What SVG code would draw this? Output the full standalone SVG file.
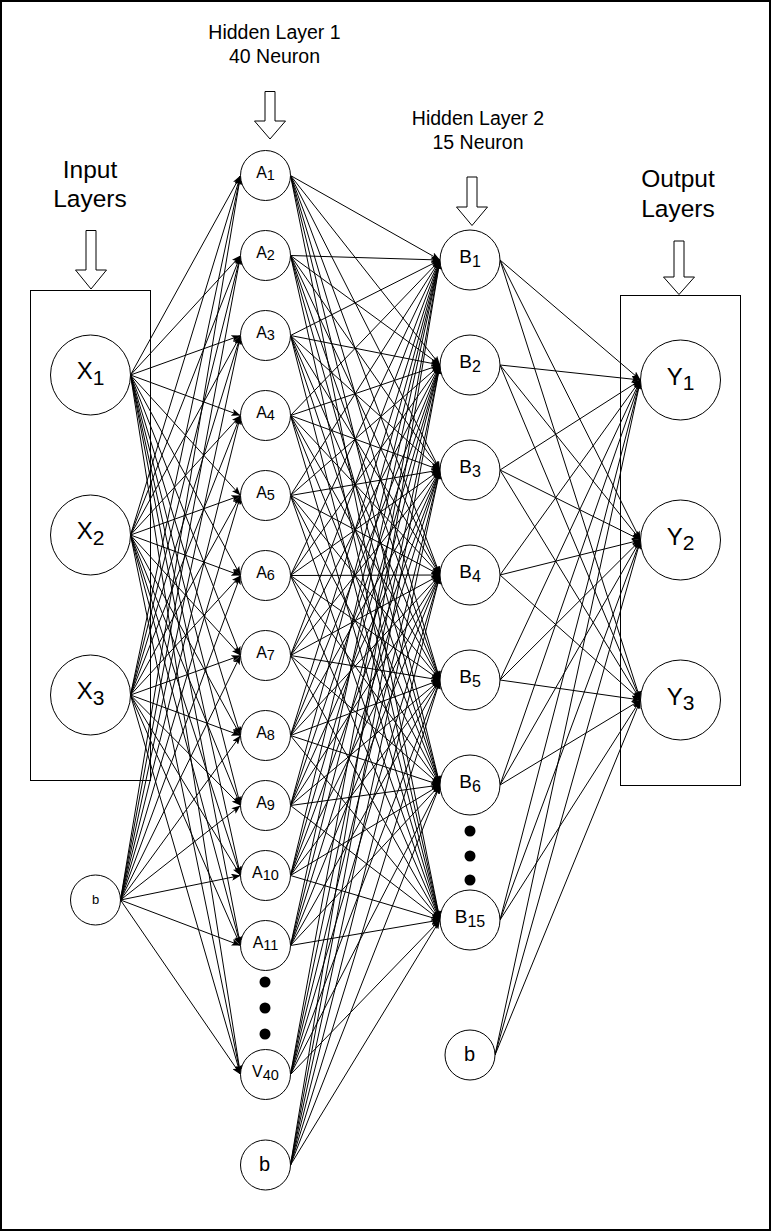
<svg xmlns="http://www.w3.org/2000/svg" width="771" height="1231" viewBox="0 0 771 1231">
<style>
text{font-family:"Liberation Sans",Arial,sans-serif;fill:#000;text-anchor:middle}
.n{fill:#fff;stroke:#000;stroke-width:1}
.box{fill:none;stroke:#000;stroke-width:1}
.harr{fill:#fff;stroke:#000;stroke-width:1}
.dot{fill:#000}
#connectors line{stroke:#000;stroke-width:1;marker-end:url(#arr)}
.lbl{font-size:19.5px}
.big{font-size:24.5px}
.xy{font-size:24px}
.xys{font-size:21px}
.a{font-size:16px}
.as{font-size:14.5px}
.b{font-size:19px}
.bs{font-size:16px}
</style>
<defs>
<marker id="arr" markerUnits="userSpaceOnUse" markerWidth="9" markerHeight="7" refX="9" refY="3.5" orient="auto">
<path d="M0,0 L9,3.5 L0,7 L2,3.5 z" fill="#000"/>
</marker>
</defs>
<rect x="0" y="0" width="771" height="1231" fill="#fff"/>
<rect x="1" y="1" width="769" height="1229" fill="none" stroke="#000" stroke-width="2"/>

<g id="labels">
<text class="lbl" x="274.5" y="39">Hidden Layer 1</text>
<text class="lbl" x="274.5" y="63">40 Neuron</text>
<text class="lbl" x="478" y="125">Hidden Layer 2</text>
<text class="lbl" x="478" y="149">15 Neuron</text>
<text class="big" x="90" y="178">Input</text>
<text class="big" x="90" y="207">Layers</text>
<text class="big" x="678" y="187">Output</text>
<text class="big" x="678" y="216.5">Layers</text>
</g>

<g id="layer-arrows">
<polygon class="harr" points="265,91.5 275,91.5 275,121 285.5,121 270,139 254.5,121 265,121"/>
<polygon class="harr" points="86,230.5 96,230.5 96,270 106.5,270 91,289 75.5,270 86,270"/>
<polygon class="harr" points="467,177 477,177 477,207 487.5,207 472,225.5 456.5,207 467,207"/>
<polygon class="harr" points="674,241 684,241 684,277 694.5,277 679,294.5 663.5,277 674,277"/>
</g>

<g id="input-box"><rect class="box" x="30.5" y="290.5" width="120" height="490"/></g>
<g id="output-box"><rect class="box" x="620.5" y="295.5" width="120" height="490"/></g>

<g id="connectors">
<line x1="130.5" y1="375" x2="240.5" y2="175.5"/>
<line x1="130.5" y1="375" x2="240.5" y2="255.5"/>
<line x1="130.5" y1="375" x2="240.5" y2="335.5"/>
<line x1="130.5" y1="375" x2="240.5" y2="415.5"/>
<line x1="130.5" y1="375" x2="240.5" y2="495.5"/>
<line x1="130.5" y1="375" x2="240.5" y2="575.5"/>
<line x1="130.5" y1="375" x2="240.5" y2="655.5"/>
<line x1="130.5" y1="375" x2="240.5" y2="735.5"/>
<line x1="130.5" y1="375" x2="240.5" y2="805.5"/>
<line x1="130.5" y1="375" x2="240.5" y2="875.5"/>
<line x1="130.5" y1="375" x2="240.5" y2="945.5"/>
<line x1="130.5" y1="375" x2="240.5" y2="1074.5"/>
<line x1="130.5" y1="535" x2="240.5" y2="175.5"/>
<line x1="130.5" y1="535" x2="240.5" y2="255.5"/>
<line x1="130.5" y1="535" x2="240.5" y2="335.5"/>
<line x1="130.5" y1="535" x2="240.5" y2="415.5"/>
<line x1="130.5" y1="535" x2="240.5" y2="495.5"/>
<line x1="130.5" y1="535" x2="240.5" y2="575.5"/>
<line x1="130.5" y1="535" x2="240.5" y2="655.5"/>
<line x1="130.5" y1="535" x2="240.5" y2="735.5"/>
<line x1="130.5" y1="535" x2="240.5" y2="805.5"/>
<line x1="130.5" y1="535" x2="240.5" y2="875.5"/>
<line x1="130.5" y1="535" x2="240.5" y2="945.5"/>
<line x1="130.5" y1="535" x2="240.5" y2="1074.5"/>
<line x1="130.5" y1="695" x2="240.5" y2="175.5"/>
<line x1="130.5" y1="695" x2="240.5" y2="255.5"/>
<line x1="130.5" y1="695" x2="240.5" y2="335.5"/>
<line x1="130.5" y1="695" x2="240.5" y2="415.5"/>
<line x1="130.5" y1="695" x2="240.5" y2="495.5"/>
<line x1="130.5" y1="695" x2="240.5" y2="575.5"/>
<line x1="130.5" y1="695" x2="240.5" y2="655.5"/>
<line x1="130.5" y1="695" x2="240.5" y2="735.5"/>
<line x1="130.5" y1="695" x2="240.5" y2="805.5"/>
<line x1="130.5" y1="695" x2="240.5" y2="875.5"/>
<line x1="130.5" y1="695" x2="240.5" y2="945.5"/>
<line x1="130.5" y1="695" x2="240.5" y2="1074.5"/>
<line x1="120.5" y1="900" x2="240.5" y2="175.5"/>
<line x1="120.5" y1="900" x2="240.5" y2="255.5"/>
<line x1="120.5" y1="900" x2="240.5" y2="335.5"/>
<line x1="120.5" y1="900" x2="240.5" y2="415.5"/>
<line x1="120.5" y1="900" x2="240.5" y2="495.5"/>
<line x1="120.5" y1="900" x2="240.5" y2="575.5"/>
<line x1="120.5" y1="900" x2="240.5" y2="655.5"/>
<line x1="120.5" y1="900" x2="240.5" y2="735.5"/>
<line x1="120.5" y1="900" x2="240.5" y2="805.5"/>
<line x1="120.5" y1="900" x2="240.5" y2="875.5"/>
<line x1="120.5" y1="900" x2="240.5" y2="945.5"/>
<line x1="120.5" y1="900" x2="240.5" y2="1074.5"/>

<line x1="290.5" y1="175.5" x2="440" y2="260"/>
<line x1="290.5" y1="175.5" x2="440" y2="365"/>
<line x1="290.5" y1="175.5" x2="440" y2="470"/>
<line x1="290.5" y1="175.5" x2="440" y2="575"/>
<line x1="290.5" y1="175.5" x2="440" y2="680"/>
<line x1="290.5" y1="175.5" x2="440" y2="785"/>
<line x1="290.5" y1="175.5" x2="440" y2="920"/>
<line x1="290.5" y1="255.5" x2="440" y2="260"/>
<line x1="290.5" y1="255.5" x2="440" y2="365"/>
<line x1="290.5" y1="255.5" x2="440" y2="470"/>
<line x1="290.5" y1="255.5" x2="440" y2="575"/>
<line x1="290.5" y1="255.5" x2="440" y2="680"/>
<line x1="290.5" y1="255.5" x2="440" y2="785"/>
<line x1="290.5" y1="255.5" x2="440" y2="920"/>
<line x1="290.5" y1="335.5" x2="440" y2="260"/>
<line x1="290.5" y1="335.5" x2="440" y2="365"/>
<line x1="290.5" y1="335.5" x2="440" y2="470"/>
<line x1="290.5" y1="335.5" x2="440" y2="575"/>
<line x1="290.5" y1="335.5" x2="440" y2="680"/>
<line x1="290.5" y1="335.5" x2="440" y2="785"/>
<line x1="290.5" y1="335.5" x2="440" y2="920"/>
<line x1="290.5" y1="415.5" x2="440" y2="260"/>
<line x1="290.5" y1="415.5" x2="440" y2="365"/>
<line x1="290.5" y1="415.5" x2="440" y2="470"/>
<line x1="290.5" y1="415.5" x2="440" y2="575"/>
<line x1="290.5" y1="415.5" x2="440" y2="680"/>
<line x1="290.5" y1="415.5" x2="440" y2="785"/>
<line x1="290.5" y1="415.5" x2="440" y2="920"/>
<line x1="290.5" y1="495.5" x2="440" y2="260"/>
<line x1="290.5" y1="495.5" x2="440" y2="365"/>
<line x1="290.5" y1="495.5" x2="440" y2="470"/>
<line x1="290.5" y1="495.5" x2="440" y2="575"/>
<line x1="290.5" y1="495.5" x2="440" y2="680"/>
<line x1="290.5" y1="495.5" x2="440" y2="785"/>
<line x1="290.5" y1="495.5" x2="440" y2="920"/>
<line x1="290.5" y1="575.5" x2="440" y2="260"/>
<line x1="290.5" y1="575.5" x2="440" y2="365"/>
<line x1="290.5" y1="575.5" x2="440" y2="470"/>
<line x1="290.5" y1="575.5" x2="440" y2="575"/>
<line x1="290.5" y1="575.5" x2="440" y2="680"/>
<line x1="290.5" y1="575.5" x2="440" y2="785"/>
<line x1="290.5" y1="575.5" x2="440" y2="920"/>
<line x1="290.5" y1="655.5" x2="440" y2="260"/>
<line x1="290.5" y1="655.5" x2="440" y2="365"/>
<line x1="290.5" y1="655.5" x2="440" y2="470"/>
<line x1="290.5" y1="655.5" x2="440" y2="575"/>
<line x1="290.5" y1="655.5" x2="440" y2="680"/>
<line x1="290.5" y1="655.5" x2="440" y2="785"/>
<line x1="290.5" y1="655.5" x2="440" y2="920"/>
<line x1="290.5" y1="735.5" x2="440" y2="260"/>
<line x1="290.5" y1="735.5" x2="440" y2="365"/>
<line x1="290.5" y1="735.5" x2="440" y2="470"/>
<line x1="290.5" y1="735.5" x2="440" y2="575"/>
<line x1="290.5" y1="735.5" x2="440" y2="680"/>
<line x1="290.5" y1="735.5" x2="440" y2="785"/>
<line x1="290.5" y1="735.5" x2="440" y2="920"/>
<line x1="290.5" y1="805.5" x2="440" y2="260"/>
<line x1="290.5" y1="805.5" x2="440" y2="365"/>
<line x1="290.5" y1="805.5" x2="440" y2="470"/>
<line x1="290.5" y1="805.5" x2="440" y2="575"/>
<line x1="290.5" y1="805.5" x2="440" y2="680"/>
<line x1="290.5" y1="805.5" x2="440" y2="785"/>
<line x1="290.5" y1="805.5" x2="440" y2="920"/>
<line x1="290.5" y1="875.5" x2="440" y2="260"/>
<line x1="290.5" y1="875.5" x2="440" y2="365"/>
<line x1="290.5" y1="875.5" x2="440" y2="470"/>
<line x1="290.5" y1="875.5" x2="440" y2="575"/>
<line x1="290.5" y1="875.5" x2="440" y2="680"/>
<line x1="290.5" y1="875.5" x2="440" y2="785"/>
<line x1="290.5" y1="875.5" x2="440" y2="920"/>
<line x1="290.5" y1="945.5" x2="440" y2="260"/>
<line x1="290.5" y1="945.5" x2="440" y2="365"/>
<line x1="290.5" y1="945.5" x2="440" y2="470"/>
<line x1="290.5" y1="945.5" x2="440" y2="575"/>
<line x1="290.5" y1="945.5" x2="440" y2="680"/>
<line x1="290.5" y1="945.5" x2="440" y2="785"/>
<line x1="290.5" y1="945.5" x2="440" y2="920"/>
<line x1="290.5" y1="1074.5" x2="440" y2="260"/>
<line x1="290.5" y1="1074.5" x2="440" y2="365"/>
<line x1="290.5" y1="1074.5" x2="440" y2="470"/>
<line x1="290.5" y1="1074.5" x2="440" y2="575"/>
<line x1="290.5" y1="1074.5" x2="440" y2="680"/>
<line x1="290.5" y1="1074.5" x2="440" y2="785"/>
<line x1="290.5" y1="1074.5" x2="440" y2="920"/>
<line x1="290.5" y1="1165" x2="440" y2="260"/>
<line x1="290.5" y1="1165" x2="440" y2="365"/>
<line x1="290.5" y1="1165" x2="440" y2="470"/>
<line x1="290.5" y1="1165" x2="440" y2="575"/>
<line x1="290.5" y1="1165" x2="440" y2="680"/>
<line x1="290.5" y1="1165" x2="440" y2="785"/>
<line x1="290.5" y1="1165" x2="440" y2="920"/>

<line x1="500" y1="260" x2="640.5" y2="380"/>
<line x1="500" y1="260" x2="640.5" y2="540"/>
<line x1="500" y1="260" x2="640.5" y2="700"/>
<line x1="500" y1="365" x2="640.5" y2="380"/>
<line x1="500" y1="365" x2="640.5" y2="540"/>
<line x1="500" y1="365" x2="640.5" y2="700"/>
<line x1="500" y1="470" x2="640.5" y2="380"/>
<line x1="500" y1="470" x2="640.5" y2="540"/>
<line x1="500" y1="470" x2="640.5" y2="700"/>
<line x1="500" y1="575" x2="640.5" y2="380"/>
<line x1="500" y1="575" x2="640.5" y2="540"/>
<line x1="500" y1="575" x2="640.5" y2="700"/>
<line x1="500" y1="680" x2="640.5" y2="380"/>
<line x1="500" y1="680" x2="640.5" y2="540"/>
<line x1="500" y1="680" x2="640.5" y2="700"/>
<line x1="500" y1="785" x2="640.5" y2="380"/>
<line x1="500" y1="785" x2="640.5" y2="540"/>
<line x1="500" y1="785" x2="640.5" y2="700"/>
<line x1="500" y1="920" x2="640.5" y2="380"/>
<line x1="500" y1="920" x2="640.5" y2="540"/>
<line x1="500" y1="920" x2="640.5" y2="700"/>
<line x1="495" y1="1055" x2="640.5" y2="380"/>
<line x1="495" y1="1055" x2="640.5" y2="540"/>
<line x1="495" y1="1055" x2="640.5" y2="700"/>
</g>

<g id="X1"><circle class="n" cx="90.5" cy="375" r="40"/><text x="90.5" y="379"><tspan class="xy">X</tspan><tspan class="xys" dy="6">1</tspan></text></g>
<g id="X2"><circle class="n" cx="90.5" cy="535" r="40"/><text x="90.5" y="539"><tspan class="xy">X</tspan><tspan class="xys" dy="6">2</tspan></text></g>
<g id="X3"><circle class="n" cx="90.5" cy="695" r="40"/><text x="90.5" y="699"><tspan class="xy">X</tspan><tspan class="xys" dy="6">3</tspan></text></g>
<g id="bias-input"><circle class="n" cx="95.5" cy="900" r="25"/><text x="95.5" y="903.5" style="font-size:13px">b</text></g>

<g id="A1"><circle class="n" cx="265.5" cy="175.5" r="25"/><text x="265.5" y="177.5"><tspan class="a">A</tspan><tspan class="as" dy="2.5">1</tspan></text></g>
<g id="A2"><circle class="n" cx="265.5" cy="255.5" r="25"/><text x="265.5" y="257.5"><tspan class="a">A</tspan><tspan class="as" dy="2.5">2</tspan></text></g>
<g id="A3"><circle class="n" cx="265.5" cy="335.5" r="25"/><text x="265.5" y="337.5"><tspan class="a">A</tspan><tspan class="as" dy="2.5">3</tspan></text></g>
<g id="A4"><circle class="n" cx="265.5" cy="415.5" r="25"/><text x="265.5" y="417.5"><tspan class="a">A</tspan><tspan class="as" dy="2.5">4</tspan></text></g>
<g id="A5"><circle class="n" cx="265.5" cy="495.5" r="25"/><text x="265.5" y="497.5"><tspan class="a">A</tspan><tspan class="as" dy="2.5">5</tspan></text></g>
<g id="A6"><circle class="n" cx="265.5" cy="575.5" r="25"/><text x="265.5" y="577.5"><tspan class="a">A</tspan><tspan class="as" dy="2.5">6</tspan></text></g>
<g id="A7"><circle class="n" cx="265.5" cy="655.5" r="25"/><text x="265.5" y="657.5"><tspan class="a">A</tspan><tspan class="as" dy="2.5">7</tspan></text></g>
<g id="A8"><circle class="n" cx="265.5" cy="735.5" r="25"/><text x="265.5" y="737.5"><tspan class="a">A</tspan><tspan class="as" dy="2.5">8</tspan></text></g>
<g id="A9"><circle class="n" cx="265.5" cy="805.5" r="25"/><text x="265.5" y="807.5"><tspan class="a">A</tspan><tspan class="as" dy="2.5">9</tspan></text></g>
<g id="A10"><circle class="n" cx="265.5" cy="875.5" r="25"/><text x="265.5" y="877.5"><tspan class="a">A</tspan><tspan class="as" dy="2.5">10</tspan></text></g>
<g id="A11"><circle class="n" cx="265.5" cy="945.5" r="25"/><text x="265.5" y="947.5"><tspan class="a">A</tspan><tspan class="as" dy="2.5">11</tspan></text></g>
<g id="A-dots"><circle class="dot" cx="265" cy="982" r="5.5"/><circle class="dot" cx="265" cy="1008" r="5.5"/><circle class="dot" cx="265" cy="1034" r="5.5"/></g>
<g id="V40"><circle class="n" cx="265.5" cy="1074.5" r="25"/><text x="265.5" y="1077"><tspan class="a">V</tspan><tspan class="as" dy="3">40</tspan></text></g>
<g id="bias-hidden1"><circle class="n" cx="265.5" cy="1165" r="25"/><text x="264.5" y="1170.5" style="font-size:20px">b</text></g>

<g id="B1"><circle class="n" cx="470" cy="260" r="30"/><text x="470" y="263"><tspan class="b">B</tspan><tspan class="bs" dy="4">1</tspan></text></g>
<g id="B2"><circle class="n" cx="470" cy="365" r="30"/><text x="470" y="368"><tspan class="b">B</tspan><tspan class="bs" dy="4">2</tspan></text></g>
<g id="B3"><circle class="n" cx="470" cy="470" r="30"/><text x="470" y="473"><tspan class="b">B</tspan><tspan class="bs" dy="4">3</tspan></text></g>
<g id="B4"><circle class="n" cx="470" cy="575" r="30"/><text x="470" y="578"><tspan class="b">B</tspan><tspan class="bs" dy="4">4</tspan></text></g>
<g id="B5"><circle class="n" cx="470" cy="680" r="30"/><text x="470" y="683"><tspan class="b">B</tspan><tspan class="bs" dy="4">5</tspan></text></g>
<g id="B6"><circle class="n" cx="470" cy="785" r="30"/><text x="470" y="788"><tspan class="b">B</tspan><tspan class="bs" dy="4">6</tspan></text></g>
<g id="B-dots"><circle class="dot" cx="470" cy="831" r="5.5"/><circle class="dot" cx="470" cy="856" r="5.5"/><circle class="dot" cx="470" cy="880" r="5.5"/></g>
<g id="B15"><circle class="n" cx="470" cy="920" r="30"/><text x="470" y="923"><tspan class="b">B</tspan><tspan class="bs" dy="4">15</tspan></text></g>
<g id="bias-hidden2"><circle class="n" cx="470" cy="1055" r="25"/><text x="469.5" y="1061" style="font-size:20px">b</text></g>

<g id="Y1"><circle class="n" cx="680.5" cy="380" r="40"/><text x="680.5" y="385"><tspan class="xy">Y</tspan><tspan class="xys" dy="5">1</tspan></text></g>
<g id="Y2"><circle class="n" cx="680.5" cy="540" r="40"/><text x="680.5" y="545"><tspan class="xy">Y</tspan><tspan class="xys" dy="5">2</tspan></text></g>
<g id="Y3"><circle class="n" cx="680.5" cy="700" r="40"/><text x="680.5" y="705"><tspan class="xy">Y</tspan><tspan class="xys" dy="5">3</tspan></text></g>
</svg>
